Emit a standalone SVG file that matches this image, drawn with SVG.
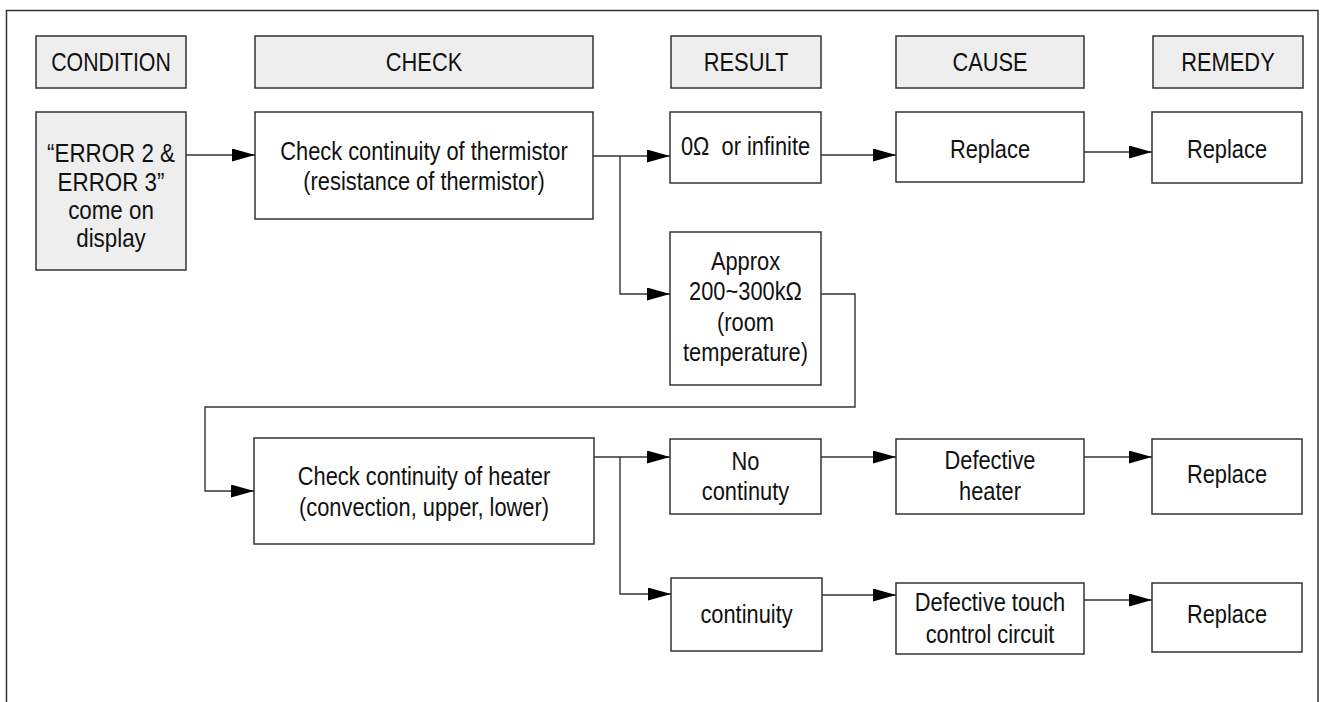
<svg xmlns="http://www.w3.org/2000/svg" width="1324" height="702" viewBox="0 0 1324 702">
<style>
.box{fill:#ffffff;stroke:#333333;stroke-width:1.5}
.hdr{fill:#eeeeee;stroke:#333333;stroke-width:1.5}
.t{font-family:'Liberation Sans',Arial,sans-serif;font-size:26px;fill:#111111;text-anchor:middle}
.c{fill:none;stroke:#333333;stroke-width:1.4}
</style>
<defs>
<marker id="ah" markerUnits="userSpaceOnUse" markerWidth="24" markerHeight="13" refX="23" refY="6.5" orient="auto">
<path d="M0,0 L23,6.5 L0,13 Z" fill="#000000"/>
</marker>
</defs>
<rect width="1324" height="702" fill="#ffffff"/>
<path d="M6.5,702 V10.5 H1318 V702" fill="none" stroke="#333333" stroke-width="1.5"/>

<g id="h-condition"><rect class="hdr" x="36" y="36" width="150" height="52"/><text class="t" transform="translate(111,0) scale(0.82,1)" y="71">CONDITION</text></g>
<g id="h-check"><rect class="hdr" x="255" y="36" width="338" height="52"/><text class="t" transform="translate(424,0) scale(0.84,1)" y="71">CHECK</text></g>
<g id="h-result"><rect class="hdr" x="671" y="36" width="150" height="52"/><text class="t" transform="translate(746,0) scale(0.84,1)" y="71">RESULT</text></g>
<g id="h-cause"><rect class="hdr" x="896" y="36" width="188" height="52"/><text class="t" transform="translate(990,0) scale(0.84,1)" y="71">CAUSE</text></g>
<g id="h-remedy"><rect class="hdr" x="1153" y="36" width="150" height="52"/><text class="t" transform="translate(1228,0) scale(0.84,1)" y="71">REMEDY</text></g>

<g id="n-error"><rect class="hdr" x="36" y="112" width="150" height="158"/>
<text class="t" transform="translate(111,0) scale(0.86,1)" y="162">“ERROR 2 &amp;</text>
<text class="t" transform="translate(111,0) scale(0.86,1)" y="191">ERROR 3”</text>
<text class="t" transform="translate(111,0) scale(0.86,1)" y="219">come on</text>
<text class="t" transform="translate(111,0) scale(0.86,1)" y="247">display</text></g>

<g id="n-check1"><rect class="box" x="255" y="112" width="338" height="107"/>
<text class="t" transform="translate(424,0) scale(0.84,1)" y="160">Check continuity of thermistor</text>
<text class="t" transform="translate(424,0) scale(0.84,1)" y="190">(resistance of thermistor)</text></g>

<g id="n-r1"><rect class="box" x="670" y="112" width="151" height="71"/>
<text class="t" transform="translate(745.5,0) scale(0.84,1)" y="155" xml:space="preserve">0Ω  or infinite</text></g>

<g id="n-approx"><rect class="box" x="670" y="232" width="151" height="153"/>
<text class="t" transform="translate(745.5,0) scale(0.84,1)" y="270">Approx</text>
<text class="t" transform="translate(745.5,0) scale(0.84,1)" y="300">200~300kΩ</text>
<text class="t" transform="translate(745.5,0) scale(0.84,1)" y="331">(room</text>
<text class="t" transform="translate(745.5,0) scale(0.84,1)" y="361">temperature)</text></g>

<g id="n-cause1"><rect class="box" x="896" y="112" width="188" height="70"/>
<text class="t" transform="translate(990,0) scale(0.84,1)" y="158">Replace</text></g>

<g id="n-remedy1"><rect class="box" x="1152" y="112" width="150" height="71"/>
<text class="t" transform="translate(1227,0) scale(0.84,1)" y="158">Replace</text></g>

<g id="n-check2"><rect class="box" x="254" y="438" width="340" height="106"/>
<text class="t" transform="translate(424,0) scale(0.84,1)" y="485">Check continuity of heater</text>
<text class="t" transform="translate(424,0) scale(0.84,1)" y="516">(convection, upper, lower)</text></g>

<g id="n-r2"><rect class="box" x="670" y="439" width="151" height="75"/>
<text class="t" transform="translate(745.5,0) scale(0.84,1)" y="470">No</text>
<text class="t" transform="translate(745.5,0) scale(0.84,1)" y="500">continuty</text></g>

<g id="n-cause2"><rect class="box" x="896" y="439" width="188" height="75"/>
<text class="t" transform="translate(990,0) scale(0.84,1)" y="469">Defective</text>
<text class="t" transform="translate(990,0) scale(0.84,1)" y="500">heater</text></g>

<g id="n-remedy2"><rect class="box" x="1152" y="439" width="150" height="75"/>
<text class="t" transform="translate(1227,0) scale(0.84,1)" y="483">Replace</text></g>

<g id="n-r3"><rect class="box" x="671" y="578" width="151" height="73"/>
<text class="t" transform="translate(746.5,0) scale(0.84,1)" y="623">continuity</text></g>

<g id="n-cause3"><rect class="box" x="896" y="583" width="188" height="71"/>
<text class="t" transform="translate(990,0) scale(0.84,1)" y="611">Defective touch</text>
<text class="t" transform="translate(990,0) scale(0.84,1)" y="643">control circuit</text></g>

<g id="n-remedy3"><rect class="box" x="1152" y="583" width="150" height="69"/>
<text class="t" transform="translate(1227,0) scale(0.84,1)" y="623">Replace</text></g>

<g id="connectors">
<path class="c" d="M186,155 H255" marker-end="url(#ah)"/>
<path class="c" d="M593,156 H670" marker-end="url(#ah)"/>
<path class="c" d="M620,156 V294 H670" marker-end="url(#ah)"/>
<path class="c" d="M821,155 H896" marker-end="url(#ah)"/>
<path class="c" d="M1084,152 H1152" marker-end="url(#ah)"/>
<path class="c" d="M821,294 H855 V407 H205 V491 H254" marker-end="url(#ah)"/>
<path class="c" d="M594,457 H670" marker-end="url(#ah)"/>
<path class="c" d="M620,457 V594 H671" marker-end="url(#ah)"/>
<path class="c" d="M821,457 H896" marker-end="url(#ah)"/>
<path class="c" d="M1084,457 H1152" marker-end="url(#ah)"/>
<path class="c" d="M822,595 H896" marker-end="url(#ah)"/>
<path class="c" d="M1084,600 H1152" marker-end="url(#ah)"/>
</g>
</svg>
